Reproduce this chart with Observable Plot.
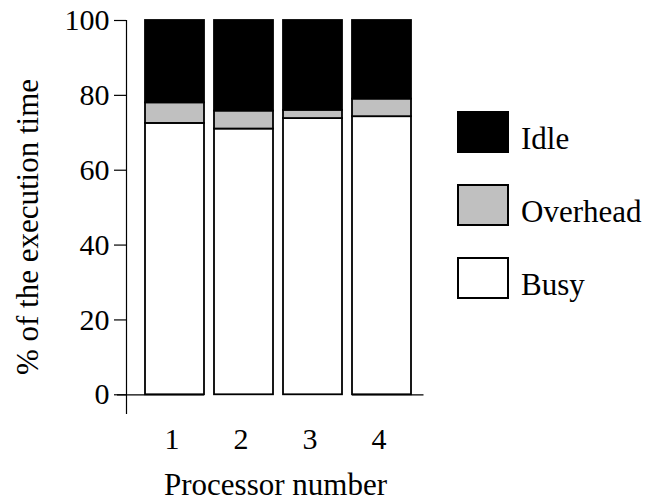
<!DOCTYPE html>
<html>
<head>
<meta charset="utf-8">
<script src="https://cdn.jsdelivr.net/npm/d3@7"></script>
<script src="https://cdn.jsdelivr.net/npm/@observablehq/plot@0.6"></script>
<style>
  html, body { margin: 0; padding: 0; background: #fff; }
  #wrap { position: relative; width: 649px; height: 501px; font-family: "Liberation Serif", "Times New Roman", serif; }
  .lg-box { position: absolute; width: 52px; height: 42px; box-sizing: border-box; border: 2px solid #000; }
  .lg-text { position: absolute; font-size: 31px; line-height: 1; color: #000; white-space: nowrap; }
  #ylab { position: absolute; left: 27px; top: 227px; font-size: 31px; line-height: 1; white-space: nowrap;
          transform: translate(-50%, -50%) rotate(-90deg); color: #000; }
</style>
</head>
<body>
<div id="wrap"></div>
<script>
// ---- data ----
const processors = ["1", "2", "3", "4"];
const series = ["Busy", "Overhead", "Idle"];          // stacking order, bottom to top
const busy     = [72.5, 71.0, 73.8, 74.3];
const overhead = [5.5, 4.8, 2.2, 4.7];
const idle     = [22.0, 24.2, 24.0, 21.0];
const seriesColors = ["#ffffff", "#c0c0c0", "#000000"];
const yTicks = [0, 20, 40, 60, 80, 100];
const legendOrder = ["Idle", "Overhead", "Busy"];
const xLabel = "Processor number";
const yLabel = "% of the execution time";

const valuesBySeries = {Busy: busy, Overhead: overhead, Idle: idle};
const table = [];
for (const s of series) {
  processors.forEach((p, i) => table.push({processor: p, series: s, value: valuesBySeries[s][i]}));
}
const edgeProcs = [processors[0], processors[processors.length - 1]];

const chart = Plot.plot({
  width: 649,
  height: 501,
  marginTop: 20,
  marginBottom: 88,
  marginLeft: 126,
  marginRight: 225,
  style: {fontFamily: "'Liberation Serif', 'Times New Roman', serif", fontSize: "30px", color: "#000", background: "#fff"},
  x: {domain: processors, paddingInner: 0.15, paddingOuter: 0.219, align: 0.59, label: null},
  y: {domain: [-5, 100], label: null},
  color: {domain: series, range: seriesColors},
  marks: [
    Plot.frame({anchor: "left", stroke: "#000", strokeWidth: 1.2}),
    Plot.tickY(edgeProcs.slice(0, 1), {x: d => d, y: () => 0, insetLeft: -28, stroke: "#000", strokeWidth: 1.2}),
    Plot.tickY(edgeProcs.slice(1), {x: d => d, y: () => 0, insetRight: -12.5, stroke: "#000", strokeWidth: 1.2}),
    Plot.barY(table, Plot.stackY({
      x: "processor", y: "value", fill: "series", order: series,
      stroke: "#000", strokeWidth: 1.8
    })),
    Plot.axisY({ticks: yTicks, tickSize: 12, tickPadding: 5, fontSize: 30, label: null, stroke: "#000", strokeWidth: 1.2}),
    Plot.axisX({tickSize: 0, tickPadding: 14, fontSize: 30, dx: -3, label: null}),
    Plot.text([xLabel], {text: d => d, frameAnchor: "bottom", dy: 72, fontSize: 31, lineAnchor: "middle"})
  ]
});

const wrap = document.getElementById("wrap");
wrap.appendChild(chart);
chart.style.position = "absolute";
chart.style.left = "0px";
chart.style.top = "0px";

const yl = document.createElement("div");
yl.id = "ylab";
yl.textContent = yLabel;
wrap.appendChild(yl);

legendOrder.forEach((name, i) => {
  const idx = series.indexOf(name);
  const box = document.createElement("div");
  box.className = "lg-box";
  box.style.left = "457px";
  box.style.top = (111 + i * 73) + "px";
  box.style.background = seriesColors[idx];
  wrap.appendChild(box);
  const t = document.createElement("div");
  t.className = "lg-text";
  t.style.left = "521px";
  t.style.top = (123 + i * 73) + "px";
  t.textContent = name;
  wrap.appendChild(t);
});
</script>
</body>
</html>
